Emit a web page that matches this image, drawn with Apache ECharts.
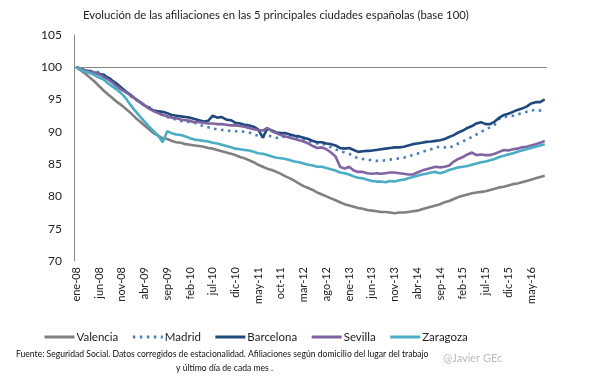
<!DOCTYPE html>
<html><head><meta charset="utf-8">
<script src="https://cdn.jsdelivr.net/npm/echarts@6/dist/echarts.min.js"></script>
<style>html,body{margin:0;padding:0;background:#fff}#c{width:605px;height:378px}</style>
</head><body><div id="c"></div>
<script>
const months = ['ene','feb','mar','abr','may','jun','jul','ago','sep','oct','nov','dic'];
const startYear = 8, nMonths = 104;
const categories = [];
for (let i = 0; i < nMonths; i++) {
  const y = startYear + Math.floor(i / 12);
  categories.push(months[i % 12] + '-' + String(y).padStart(2, '0'));
}
const yTicks = [70, 75, 80, 85, 90, 95, 100, 105];

const valencia = [100,99.5,99.0,98.4,97.8,97.1,96.4,95.8,95.2,94.6,94.1,93.5,92.9,92.2,91.6,91.0,90.4,89.8,89.4,89.0,
88.9,88.6,88.4,88.3,88.1,88.0,87.9,87.8,87.7,87.5,87.4,87.2,87.0,86.8,86.6,86.4,86.1,85.9,85.6,85.3,
84.9,84.6,84.3,84.1,83.8,83.5,83.1,82.8,82.4,82.0,81.6,81.3,81.0,80.6,80.3,80.0,79.7,79.4,79.1,78.8,
78.6,78.4,78.2,78.1,77.9,77.8,77.7,77.6,77.6,77.5,77.4,77.5,77.5,77.6,77.7,77.8,78.0,78.2,78.4,78.6,
78.8,79.1,79.3,79.6,79.9,80.1,80.3,80.5,80.6,80.7,80.8,81.0,81.2,81.4,81.5,81.7,81.9,82.0,82.2,82.4,
82.6,82.8,83.0,83.2];
const madrid = [100,99.7,99.5,99.4,99.4,99.2,98.9,98.5,97.9,97.3,96.7,96.1,95.5,95.0,94.6,94.1,93.8,93.4,93.0,92.6,
92.3,92.1,91.9,91.7,91.6,91.5,91.4,91.1,90.9,90.7,90.5,90.4,90.3,90.2,90.15,90.1,90.1,90.0,89.9,89.6,
89.4,89.2,89.4,89.3,89.1,89.0,89.4,89.4,89.2,89.0,88.8,88.6,88.4,88.2,88.2,87.9,87.6,87.3,87.0,86.8,
86.6,86.2,85.9,85.8,85.7,85.6,85.5,85.5,85.6,85.7,85.8,85.9,86.0,86.2,86.4,86.6,86.9,87.1,87.3,87.6,
87.7,87.6,87.5,87.9,88.2,88.5,88.9,89.2,89.6,90.0,90.4,90.7,91.1,92.0,92.3,92.4,92.5,92.7,92.9,93.1,
93.3,93.4,93.3,93.2];
const barcelona = [100,99.8,99.5,99.4,99.2,99.0,98.8,98.4,97.9,97.4,96.8,96.2,95.7,95.1,94.6,94.1,93.7,93.3,93.2,93.1,
92.9,92.6,92.5,92.4,92.3,92.2,92.0,91.8,91.6,91.7,92.5,92.2,92.3,91.9,91.8,91.4,91.3,91.1,91.0,90.8,
90.4,89.1,90.5,90.2,89.9,89.8,89.8,89.6,89.4,89.3,89.1,88.9,88.6,88.4,88.4,88.2,88.1,87.9,87.5,87.4,
87.5,87.2,86.9,87.0,87.05,87.1,87.2,87.3,87.4,87.5,87.6,87.6,87.7,87.9,88.1,88.2,88.3,88.45,88.5,88.6,
88.7,88.9,89.2,89.5,89.9,90.2,90.6,90.9,91.3,91.5,91.2,91.2,91.6,92.2,92.6,92.8,93.1,93.4,93.6,93.9,
94.4,94.6,94.6,95.05];
const sevilla = [100,99.7,99.5,99.3,99.2,98.9,98.5,98.1,97.6,97.0,96.5,96.1,95.6,95.1,94.6,94.1,93.6,93.2,92.9,92.6,
92.4,92.2,92.1,91.9,91.8,91.7,91.5,91.5,91.4,91.3,91.3,91.2,91.2,91.1,91.0,91.0,90.9,90.8,90.6,90.4,
90.3,90.2,90.6,90.1,89.8,89.5,89.3,89.1,88.9,88.7,88.5,88.2,87.8,87.5,87.6,87.3,86.8,86.2,84.6,84.3,
84.6,84.0,83.8,83.8,83.6,83.5,83.6,83.5,83.6,83.7,83.7,83.6,83.5,83.4,83.4,83.7,84.0,84.2,84.4,84.6,
84.5,84.6,84.8,85.4,85.8,86.1,86.5,86.8,86.4,86.5,86.4,86.4,86.6,86.9,87.2,87.1,87.3,87.4,87.6,87.7,
87.9,88.1,88.3,88.6];
const zaragoza = [100,99.6,99.3,99.1,98.8,98.4,98.1,97.5,97.0,96.5,95.9,95.1,94.1,93.2,92.4,91.6,90.8,90.1,89.4,88.4,
90.1,89.8,89.6,89.5,89.3,89.0,88.8,88.7,88.6,88.5,88.3,88.2,88.0,87.8,87.6,87.4,87.3,87.2,87.1,86.9,
86.7,86.6,86.4,86.2,86.0,85.9,85.8,85.6,85.4,85.3,85.1,84.9,84.8,84.6,84.6,84.4,84.2,84.0,83.7,83.6,
83.4,83.1,82.9,82.8,82.6,82.4,82.3,82.3,82.2,82.4,82.3,82.5,82.6,82.8,83.0,83.2,83.4,83.5,83.7,83.8,
83.6,83.8,84.1,84.3,84.5,84.6,84.7,84.9,85.1,85.3,85.4,85.6,85.8,86.1,86.3,86.5,86.7,86.9,87.1,87.3,
87.5,87.7,87.9,88.1];

const seriesNames = ['Valencia','Madrid','Barcelona','Sevilla','Zaragoza'];
const seriesData = [valencia, madrid, barcelona, sevilla, zaragoza];
const colors = ['#808080','#4a7ebb','#1f497d','#8064a2','#4bacc6'];
const FONT = 'Lato';

const chart = echarts.init(document.getElementById('c'), null, {renderer: 'canvas'});
chart.setOption({
  animation: false,
  textStyle: {fontFamily: FONT},
  title: {
    text: 'Evolución de las afiliaciones en las 5 principales ciudades españolas (base 100)',
    left: 78, top: 5,
    textStyle: {fontFamily: FONT, fontSize: 11.3, fontWeight: 'normal', color: '#222'}
  },
  grid: {left: 74, right: 58, top: 35, bottom: 117, containLabel: false},
  legend: {
    left: 38, top: 326, itemWidth: 30, itemHeight: 10, itemGap: 13,
    itemStyle: {opacity: 0},
    lineStyle: {width: 3},
    textStyle: {fontFamily: FONT, fontSize: 11.5, color: '#222', padding: [0, 0, 0, -3]},
    data: seriesNames
  },
  xAxis: {
    type: 'category', data: categories, boundaryGap: true,
    axisLine: {show: false}, axisTick: {show: false},
    axisLabel: {interval: 4, rotate: 90, fontFamily: FONT, fontSize: 11, color: '#222', margin: 6}
  },
  yAxis: {
    type: 'value', min: 70, max: 105, interval: 5,
    axisLine: {show: true, lineStyle: {color: '#888', width: 1}},
    axisTick: {show: false}, splitLine: {show: false},
    axisLabel: {fontFamily: FONT, fontSize: 12, color: '#222', margin: 12}
  },
  series: seriesNames.map((n, k) => ({
    name: n, type: 'line', data: seriesData[k], symbol: 'none', showSymbol: false, smooth: false,
    color: colors[k],
    itemStyle: {color: colors[k]},
    lineStyle: {color: colors[k], width: 2.6, type: k === 1 ? [2.5, 4.5] : 'solid'},
    markLine: k === 0 ? {
      silent: true, symbol: 'none', label: {show: false},
      lineStyle: {color: '#888', width: 1, type: 'solid'},
      data: [{yAxis: 100}]
    } : undefined,
    z: 2 + k
  })),
  graphic: [
    {type: 'text', left: 16, top: 350, style: {text: 'Fuente: Seguridad Social. Datos corregidos de estacionalidad. Afiliaciones según domicilio del lugar del trabajo', font: '8.6px ' + FONT, fill: '#111'}},
    {type: 'text', left: 176, top: 364, style: {text: 'y último día de cada mes .', font: '8.6px ' + FONT, fill: '#111'}},
    {type: 'text', left: 443, top: 353, style: {text: '@Javier GEc', font: '11px ' + FONT, fill: '#bbb'}}
  ]
});
</script></body></html>
